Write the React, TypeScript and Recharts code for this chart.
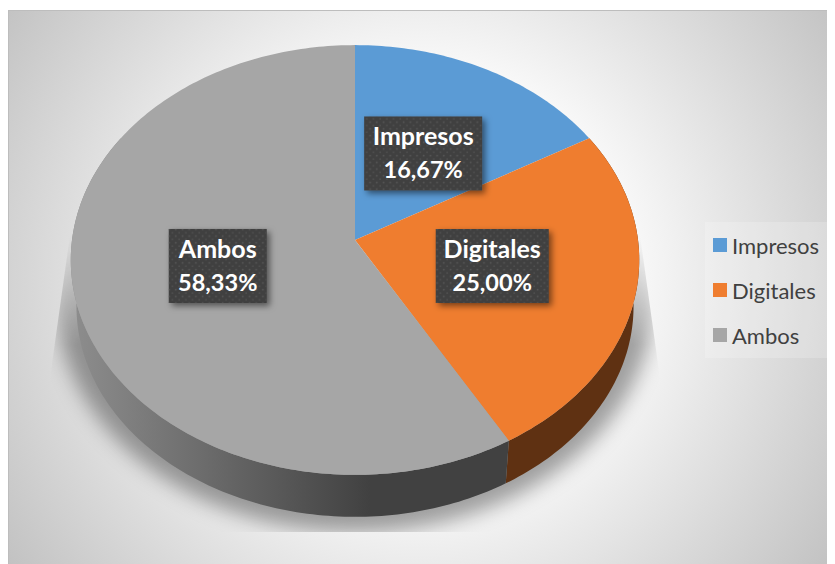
import React from "react";
import { PieChart, Pie, Legend } from "recharts";

const categories = ["Impresos", "Digitales", "Ambos"];
const shares = [16.67, 25.0, 58.33];
const topColors = ["#5b9bd5", "#ef7d2f", "#a6a6a6"];
const wallColors = ["#2f5f8c", "#5f3112", "url(#wallGrey)"];
const chartData = categories.map((name, i) => ({ name, value: shares[i], fill: topColors[i] }));
const wallData = categories.map((name, i) => ({ name, value: shares[i], fill: wallColors[i] }));

const W = 835;
const H = 564;
const PIVOT_X = 355;
const PIVOT_Y = 240;
const SCALE_X = 283;
const SCALE_Y = 213;
const PERSP = 0.093;
const WALL_DROP = 46.7;
const WALL_SHRINK = 0.98;

// Perspective projection of a point on the unit pie disc; theta is clockwise from 12 o'clock.
function project(theta: number, r = 1) {
  const t = (theta * Math.PI) / 180;
  const u = r * Math.sin(t);
  const v = -r * Math.cos(t);
  const d = 1 - PERSP * v;
  return { x: (SCALE_X * u) / d, y: (SCALE_Y * v) / d };
}

function arcPoints(a0: number, a1: number, cx: number, cy: number, shift = 0, k = 1) {
  const n = Math.max(2, Math.ceil(Math.abs(a1 - a0)));
  const out: string[] = [];
  for (let i = 0; i <= n; i++) {
    const p = project(a0 + ((a1 - a0) * i) / n);
    out.push(`${(cx + k * p.x).toFixed(2)} ${(cy + shift + k * p.y).toFixed(2)}`);
  }
  return out;
}

function TopSlice(props: any) {
  const { cx, cy, startAngle, endAngle, fill } = props;
  const pts = arcPoints(90 - startAngle, 90 - endAngle, cx, cy);
  return <path d={`M${cx} ${cy}L${pts.join("L")}Z`} fill={fill} />;
}

function WallSlice(props: any) {
  const { cx, cy, startAngle, endAngle, fill } = props;
  const a0 = 90 - startAngle;
  const a1 = Math.min(90 - endAngle, 300);
  if (a0 >= 270 || a1 <= 90) return <g />;
  const top = arcPoints(a0, a1, cx, cy);
  const bottom = arcPoints(a1, a0, cx, cy, WALL_DROP, WALL_SHRINK);
  return <path d={`M${top.join("L")}L${bottom.join("L")}Z`} fill={fill} />;
}

const boxWidth: Record<string, number> = { Impresos: 118, Digitales: 113, Ambos: 98 };
const boxNudge: Record<string, [number, number]> = { Impresos: [4, -8], Digitales: [0, 0], Ambos: [0, 0] };
const BOX_H = 74;

function SliceLabel(props: any) {
  const { cx, cy, midAngle, name, value } = props;
  const p = project(90 - midAngle);
  const [nx, ny] = boxNudge[name];
  const mx = cx + p.x * 0.49 + nx;
  const my = cy + p.y * 0.46 + ny;
  const w = boxWidth[name];
  const font = { fontFamily: "Lato, sans-serif", fontWeight: 700, fill: "#fff", textAnchor: "middle" as const };
  return (
    <g>
      <rect x={mx - w / 2} y={my - BOX_H / 2} width={w} height={BOX_H} fill="#3f3f3f" filter="url(#boxShadow)" />
      <rect x={mx - w / 2} y={my - BOX_H / 2} width={w} height={BOX_H} fill="url(#dots)" />
      <text x={mx} y={my - 8} fontSize={25} {...font}>{name}</text>
      <text x={mx} y={my + 25} fontSize={23.5} {...font}>{Number(value).toFixed(2).replace(".", ",")}%</text>
    </g>
  );
}

function LegendBox() {
  return (
    <div style={{ width: 128, height: 136, background: "rgba(255,255,255,0.2)", position: "relative", fontFamily: "Lato, sans-serif", fontSize: 22, color: "#404040" }}>
      {categories.map((name, i) => (
        <div key={name} style={{ position: "absolute", left: 8, top: 9 + i * 45, height: 28, display: "flex", alignItems: "center", whiteSpace: "nowrap" }}>
          <span style={{ width: 14, height: 14, background: topColors[i], marginRight: 5, display: "inline-block" }} />
          {name}
        </div>
      ))}
    </div>
  );
}

export default function App() {
  return (
    <div style={{ marginTop: -8, marginLeft: -8, width: W, height: H, background: "#fff" }}>
      <PieChart width={W} height={H} margin={{ top: 0, right: 0, bottom: 0, left: 0 }}>
        <defs>
          <radialGradient id="bg" gradientUnits="userSpaceOnUse" cx={420} cy={280} r={500}>
            <stop offset="0.36" stopColor="#ffffff" />
            <stop offset="1" stopColor="#c2c2c2" />
          </radialGradient>
          <linearGradient id="wallGrey" gradientUnits="userSpaceOnUse" x1={70} y1={0} x2={370} y2={0}>
            <stop offset="0" stopColor="#8e8e8e" />
            <stop offset="1" stopColor="#414141" />
          </linearGradient>
          <linearGradient id="shadowFade" gradientUnits="userSpaceOnUse" x1={0} y1={235} x2={0} y2={345}>
            <stop offset="0" stopColor="#000" />
            <stop offset="1" stopColor="#fff" />
          </linearGradient>
          <mask id="shadowMask" maskUnits="userSpaceOnUse" x={0} y={0} width={W} height={H}>
            <rect x={0} y={0} width={W} height={H} fill="url(#shadowFade)" />
          </mask>
          <pattern id="dots" patternUnits="userSpaceOnUse" width={6.7} height={6.7}>
            <circle cx={1.6} cy={1.6} r={0.9} fill="#565656" />
            <circle cx={4.95} cy={4.95} r={0.9} fill="#4f4f4f" />
          </pattern>
          <filter id="boxShadow" x="-20%" y="-20%" width="140%" height="150%">
            <feDropShadow dx={3} dy={3} stdDeviation={3} floodColor="#000" floodOpacity={0.5} />
          </filter>
          <filter id="blurShadow" x="-20%" y="-20%" width="140%" height="140%">
            <feGaussianBlur stdDeviation={10} />
          </filter>
          <clipPath id="shadowClip">
            <polygon points="70,235 50,378 50,532 660,532 660,378 640,235" />
          </clipPath>
        </defs>
        <rect x={8.5} y={10.5} width={W} height={H} fill="url(#bg)" stroke="#bdbdbd" strokeWidth={1} />
        <g clipPath="url(#shadowClip)">
          <g mask="url(#shadowMask)">
            <ellipse cx={355} cy={300} rx={298} ry={232} fill="#000" fillOpacity={0.36} filter="url(#blurShadow)" />
          </g>
        </g>
        <Pie
          data={wallData}
          dataKey="value"
          nameKey="name"
          cx={PIVOT_X}
          cy={PIVOT_Y}
          outerRadius={200}
          startAngle={90}
          endAngle={-270}
          stroke="none"
          shape={WallSlice}
          legendType="none"
          label={false}
          labelLine={false}
          isAnimationActive={false}
        />
        <Pie
          data={chartData}
          dataKey="value"
          nameKey="name"
          cx={PIVOT_X}
          cy={PIVOT_Y}
          outerRadius={200}
          startAngle={90}
          endAngle={-270}
          stroke="none"
          shape={TopSlice}
          label={SliceLabel}
          labelLine={false}
          isAnimationActive={false}
        />
        <Legend
          layout="vertical"
          align="right"
          verticalAlign="top"
          content={LegendBox}
          wrapperStyle={{ position: "absolute", left: 705, top: 222, width: 128, height: 136 }}
        />
      </PieChart>
    </div>
  );
}
